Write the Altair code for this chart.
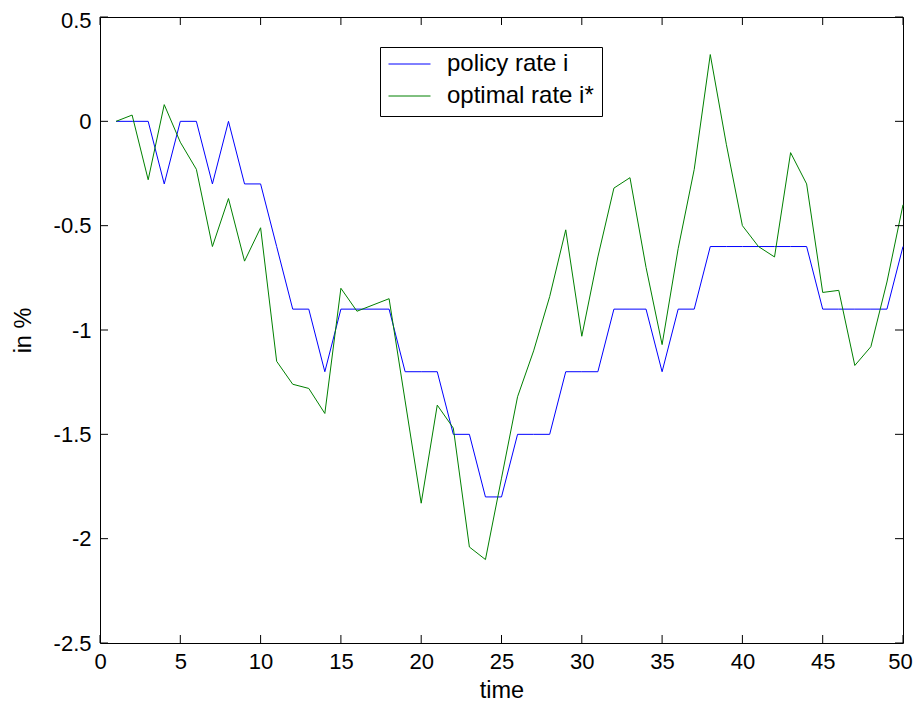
import altair as alt
import pandas as pd

time = list(range(1, 51))
policy_rate = [0, 0, 0, -0.3, 0, 0, -0.3, 0, -0.3, -0.3,
               -0.6, -0.9, -0.9, -1.2, -0.9, -0.9, -0.9, -0.9, -1.2, -1.2,
               -1.2, -1.5, -1.5, -1.8, -1.8, -1.5, -1.5, -1.5, -1.2, -1.2,
               -1.2, -0.9, -0.9, -0.9, -1.2, -0.9, -0.9, -0.6, -0.6, -0.6,
               -0.6, -0.6, -0.6, -0.6, -0.9, -0.9, -0.9, -0.9, -0.9, -0.6]
optimal_rate = [0, 0.03, -0.28, 0.08, -0.10, -0.23, -0.60, -0.37, -0.67, -0.51,
                -1.15, -1.26, -1.28, -1.40, -0.80, -0.91, -0.88, -0.85, -1.34, -1.83,
                -1.36, -1.47, -2.04, -2.10, -1.71, -1.32, -1.10, -0.84, -0.52, -1.03,
                -0.65, -0.32, -0.27, -0.70, -1.07, -0.61, -0.23, 0.32, -0.11, -0.50,
                -0.60, -0.65, -0.15, -0.30, -0.82, -0.81, -1.17, -1.08, -0.77, -0.40]
series_names = ["policy rate i", "optimal rate i*"]
series_colors = ["#0000ff", "#008000"]
x_ticks = [0, 5, 10, 15, 20, 25, 30, 35, 40, 45, 50]
y_ticks = [-2.5, -2, -1.5, -1, -0.5, 0, 0.5]

W, H = 803, 626
TL = 8
FONT = "Liberation Sans"

df = pd.concat([
    pd.DataFrame({"time": time, "value": policy_rate, "series": series_names[0]}),
    pd.DataFrame({"time": time, "value": optimal_rate, "series": series_names[1]}),
])

xscale = alt.Scale(domain=[0, 50], nice=False, zero=False)
yscale = alt.Scale(domain=[-2.5, 0.5], nice=False, zero=False)
xaxis = alt.Axis(title="time", values=x_ticks, tickSize=0, domain=False, grid=False,
                 labelPadding=8, titlePadding=6, labelFlush=False,
                 labelOffset={"condition": {"test": "datum.value == 50", "value": -3}, "value": 0},
                 labelExpr="'' + datum.value")
yaxis = alt.Axis(title="in %", values=y_ticks, tickSize=0, domain=False, grid=False,
                 labelPadding=9, titlePadding=18, labelFlush=False,
                 labelOffset={"condition": {"test": "datum.value == 0.5", "value": 3}, "value": 0},
                 labelExpr="'' + datum.value")

lines = alt.Chart(df).mark_line(strokeWidth=1).encode(
    x=alt.X("time:Q", scale=xscale, axis=xaxis),
    y=alt.Y("value:Q", scale=yscale, axis=yaxis),
    color=alt.Color("series:N", scale=alt.Scale(domain=series_names, range=series_colors),
                    legend=alt.Legend(title=None, orient="none", legendX=280, legendY=30,
                                      symbolType="stroke", symbolSize=1764, symbolStrokeWidth=1,
                                      labelFontSize=24, labelFont=FONT, labelOffset=16,
                                      padding=8, clipHeight=18, rowPadding=8,
                                      strokeColor="black", fillColor="white",
                                      labelLimit=400)),
    order="time:Q",
)

xt = pd.DataFrame({"time": x_ticks})
yt = pd.DataFrame({"value": y_ticks})

bottom_ticks = alt.Chart(xt).mark_rule(color="black", strokeWidth=1).encode(
    x=alt.X("time:Q", scale=xscale, axis=xaxis), y=alt.value(H), y2=alt.value(H - TL))
top_ticks = alt.Chart(xt).mark_rule(color="black", strokeWidth=1).encode(
    x=alt.X("time:Q", scale=xscale, axis=xaxis), y=alt.value(0), y2=alt.value(TL))
left_ticks = alt.Chart(yt).mark_rule(color="black", strokeWidth=1).encode(
    y=alt.Y("value:Q", scale=yscale, axis=yaxis), x=alt.value(0), x2=alt.value(TL))
right_ticks = alt.Chart(yt).mark_rule(color="black", strokeWidth=1).encode(
    y=alt.Y("value:Q", scale=yscale, axis=yaxis), x=alt.value(W), x2=alt.value(W - TL))

chart = alt.layer(lines, bottom_ticks, top_ticks, left_ticks, right_ticks).properties(
    width=W, height=H,
    autosize=alt.AutoSizeParams(type="none"),
    padding={"left": 92, "top": 9, "right": 10, "bottom": 58},
).configure_view(
    stroke="black", strokeWidth=1
).configure_axis(
    labelFont=FONT, labelFontSize=22, labelColor="black",
    titleFont=FONT, titleFontSize=23.5, titleColor="black", titleFontWeight="normal",
)

chart.save("out.html", embed_options={"renderer": "svg", "actions": False})
